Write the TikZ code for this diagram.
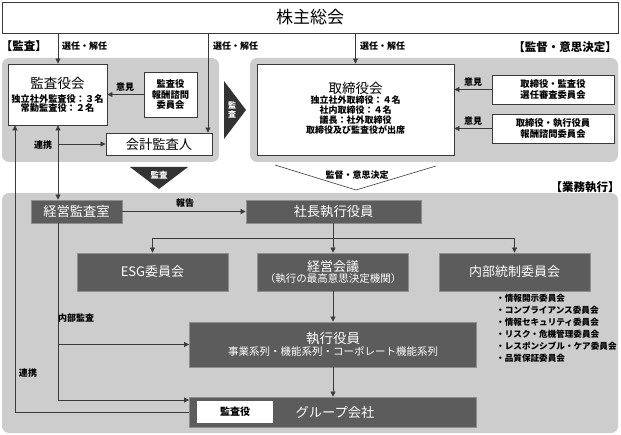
\documentclass[tikz,border=0pt]{standalone}
\usepackage{fontspec}
\setmainfont{Noto Sans CJK JP}
\usetikzlibrary{arrows.meta}
\definecolor{panelgray}{HTML}{CDCDCD}
\definecolor{darkbox}{HTML}{5C5C5C}
\definecolor{dborder}{HTML}{8E8E8E}
\definecolor{linec}{HTML}{3A3A3A}
\definecolor{tridark}{HTML}{333333}
\newcommand{\fsz}[2]{\fontsize{#1}{#2}\selectfont}
\tikzset{
  panel/.style={fill=panelgray, draw=none, rounded corners=7pt},
  wbox/.style={draw=linec, fill=white, line width=0.8pt, inner sep=0pt, align=center},
  dbox/.style={draw=dborder, fill=darkbox, line width=0.8pt, text=white, inner sep=0pt, align=center},
  lbl/.style={inner sep=0pt, font=\fsz{9}{10}\bfseries, text=black},
  plbl/.style={inner sep=0pt, font=\fsz{11.5}{13}\bfseries, text=black},
  conn/.style={draw=linec, line width=0.7pt},
  arr/.style={conn, -{Triangle[length=5pt,width=5pt]}},
  arrboth/.style={conn, {Triangle[length=5pt,width=5pt]}-{Triangle[length=5pt,width=5pt]}},
  arrback/.style={conn, {Triangle[length=5pt,width=5pt]}-},
}
\begin{document}
\begin{tikzpicture}[x=1pt,y=-1pt]
\useasboundingbox (0,0) rectangle (621,435);
% panels
\fill[panel] (2,58) rectangle (219,162);
\fill[panel] (250,58) rectangle (618,162);
\fill[panel] (2,193) rectangle (618,433);
% top
\node[wbox, minimum width=616pt, minimum height=31pt, font=\fsz{17}{19}] (kabu) at (310,17.5) {株主総会};
% panel labels
\node[plbl] (lkansa) at (24,46) {【監査】};
\node[plbl] (lkantoku) at (565,47) {【監督・意思決定】};
\node[plbl] (lgyomu) at (585,187) {【業務執行】};
% audit panel
\node[wbox, minimum width=99pt, minimum height=61pt] (kansa) at (57.5,94.5) {};
\node[inner sep=0pt, font=\fsz{13.5}{15}] (kansat) at (57.5,83) {監査役会};
\node[inner sep=0pt, align=center, font=\fsz{9.2}{9.8}\bfseries] (kansad) at (57.5,103.5) {独立社外監査役：３名\\常勤監査役：２名};
\node[wbox, minimum width=53pt, minimum height=45pt, font=\fsz{9.3}{10.6}\bfseries] (khoshu) at (170.5,94.5) {監査役\\報酬諮問\\委員会};
\node[wbox, minimum width=106pt, minimum height=22pt, font=\fsz{13.3}{15}] (kaikei) at (159,144) {会計監査人};
% board panel
\node[wbox, minimum width=197pt, minimum height=91pt] (tori) at (355.5,109.5) {};
\node[inner sep=0pt, font=\fsz{13.5}{15}] (torit) at (355.5,88) {取締役会};
\node[inner sep=0pt, align=center, font=\fsz{9}{9.8}\bfseries] (torid) at (355.5,115) {独立社外取締役：４名\\社内取締役：４名\\議長：社外取締役\\取締役及び監査役が出席};
\node[wbox, minimum width=122pt, minimum height=29pt, font=\fsz{9.3}{11}\bfseries] (senin) at (553,89.5) {取締役・監査役\\選任審査委員会};
\node[wbox, minimum width=122pt, minimum height=29pt, font=\fsz{9.3}{11}\bfseries] (thoshu) at (553,128.5) {取締役・執行役員\\報酬諮問委員会};
% triangles
\fill[tridark] (224,81) -- (246,110) -- (224,139) -- cycle;
\node[inner sep=0pt, text=white, align=center, font=\fsz{8}{9}\bfseries] (tri1t) at (232,110) {監\\査};
\fill[tridark] (130,167) -- (188,167) -- (159,189) -- cycle;
\node[inner sep=0pt, text=white, font=\fsz{8.5}{9}\bfseries] (tri2t) at (159,175) {監査};
\fill[white] (275,165) -- (356,190) -- (436,166) -- cycle;
\draw[draw=linec, line width=0.6pt] (275,165) -- (356,190) -- (436,166);
\node[inner sep=0pt, font=\fsz{9}{10}\bfseries] (tri3t) at (357,175) {監督・意思決定};
% execution panel
\node[dbox, minimum width=91pt, minimum height=23pt, font=\fsz{13.3}{15}] (kk) at (76.5,211.5) {経営監査室};
\node[dbox, minimum width=175pt, minimum height=23pt, font=\fsz{13.3}{15}] (shacho) at (333.5,211.5) {社長執行役員};
\node[dbox, minimum width=151pt, minimum height=38pt, font=\fsz{13}{15}] (esg) at (152.5,272) {ESG委員会};
\node[dbox, minimum width=151pt, minimum height=38pt, align=center] (keiei) at (333,272) {{\fsz{13}{15}経営会議}\\[-1pt]{\fsz{10.5}{12}（執行の最高意思決定機関）}};
\node[dbox, minimum width=151pt, minimum height=38pt, font=\fsz{13}{15}] (naibu) at (514.5,272) {内部統制委員会};
\node[inner sep=0pt, align=left, anchor=north west, font=\fsz{8.6}{12}\bfseries] (blist) at (496,294) {・情報開示委員会\\・コンプライアンス委員会\\・情報セキュリティ委員会\\・リスク・危機管理委員会\\・レスポンシブル・ケア委員会\\・品質保証委員会};
\node[dbox, minimum width=287pt, minimum height=45pt, align=center] (shikko) at (333,344.5) {{\fsz{13.5}{15}執行役員}\\[0pt]{\fsz{10.5}{12}事業系列・機能系列・コーポレート機能系列}};
\node[dbox, minimum width=287pt, minimum height=30pt] (group) at (333,412) {};
\node[fill=white, draw=none, minimum width=76pt, minimum height=22pt, inner sep=0pt, font=\fsz{10}{12}\bfseries] (gkansa) at (235,412) {監査役};
\node[inner sep=0pt, text=white, font=\fsz{13.3}{15}] (gname) at (335,412) {グループ会社};
% coordinates
\coordinate (x15) at (15,0);
\coordinate (x58) at (58,0);
\coordinate (x208) at (208,0);
\coordinate (y238) at (0,238);
\coordinate (y400) at (0,400);
% connectors top
\draw[arr] (kabu.south -| x58) -- (kansa.north -| x58);
\node[lbl, anchor=west] (l1) at (62,46) {選任・解任};
\draw[arr] (kabu.south -| x208) -- (kaikei.north -| x208);
\node[lbl, anchor=west] (l2) at (213,46) {選任・解任};
\draw[arr] (kabu.south -| tori.north) -- (tori.north);
\node[lbl, anchor=west] (l3) at (360,46) {選任・解任};
% opinions
\draw[arr] (khoshu.west) -- (kansa.east);
\node[lbl] (l4) at (125,87) {意見};
\draw[arr] (senin.west) -- (senin.west -| tori.east);
\node[lbl] (l5) at (473,82) {意見};
\draw[arr] (thoshu.west) -- (thoshu.west -| tori.east);
\node[lbl] (l6) at (473,121) {意見};
% renkei
\draw[arr] (kaikei.west -| x58) -- (kaikei.west);
\node[lbl] (l7) at (43,145) {連携};
\draw[arrboth] (kansa.south -| x58) -- (kk.north -| x58);
\draw[arrback] (kansa.south -| x15) |- (group.west);
\node[lbl] (l8) at (28,373) {連携};
% internal audit
\draw[arr] (kk.south -| x58) |- (group.west |- y400);
\draw[arr] (shikko.west -| x58) -- (shikko.west);
\node[lbl] (l9) at (76,318) {内部監査};
% report
\draw[arr] (kk.east) -- (shacho.west);
\node[lbl] (l10) at (185,203) {報告};
% president down
\draw[conn] (shacho.south) -- (shacho.south |- y238);
\draw[conn] (esg.north |- y238) -- (naibu.north |- y238);
\draw[arr] (esg.north |- y238) -- (esg.north);
\draw[arr] (keiei.north |- y238) -- (keiei.north);
\draw[arr] (naibu.north |- y238) -- (naibu.north);
\draw[arr] (keiei.south) -- (shikko.north);
\draw[arr] (shikko.south) -- (group.north);
\end{tikzpicture}
\end{document}
